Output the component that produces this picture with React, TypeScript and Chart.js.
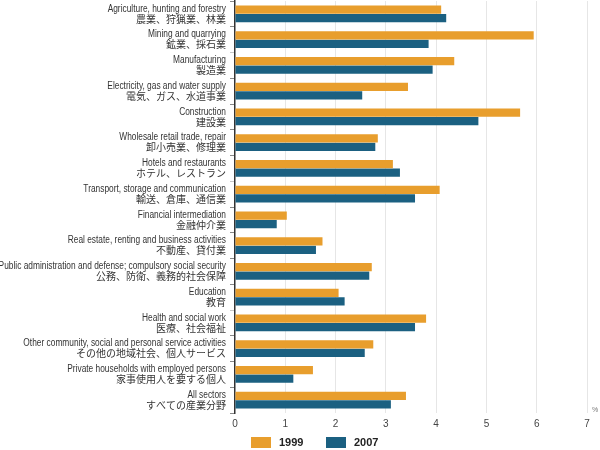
import React, { useEffect, useRef } from "react";
import { Chart, registerables } from "chart.js";

Chart.register(...registerables);

const englishLabels = [
  "Agriculture, hunting and forestry",
  "Mining and quarrying",
  "Manufacturing",
  "Electricity, gas and water supply",
  "Construction",
  "Wholesale retail trade, repair",
  "Hotels and restaurants",
  "Transport, storage and communication",
  "Financial intermediation",
  "Real estate, renting and business activities",
  "Public administration and defense; compulsory social security",
  "Education",
  "Health and social work",
  "Other community, social and personal service activities",
  "Private households with employed persons",
  "All sectors",
];

const japaneseLabels = [
  "農業、狩猟業、林業",
  "鉱業、採石業",
  "製造業",
  "電気、ガス、水道事業",
  "建設業",
  "卸小売業、修理業",
  "ホテル、レストラン",
  "輸送、倉庫、通信業",
  "金融仲介業",
  "不動産、貸付業",
  "公務、防衛、義務的社会保障",
  "教育",
  "医療、社会福祉",
  "その他の地域社会、個人サービス",
  "家事使用人を要する個人",
  "すべての産業分野",
];

const values1999 = [4.1, 5.94, 4.36, 3.44, 5.67, 2.84, 3.14, 4.07, 1.03, 1.74, 2.72, 2.06, 3.8, 2.75, 1.55, 3.4];
const values2007 = [4.2, 3.85, 3.93, 2.53, 4.84, 2.79, 3.28, 3.58, 0.83, 1.61, 2.67, 2.18, 3.58, 2.58, 1.16, 3.1];

const seriesNames = ["1999", "2007"];
const xTicks = [0, 1, 2, 3, 4, 5, 6, 7];

const ORANGE = "#E89E2D";
const BLUE = "#1B6081";

const labelPlugin = {
  id: "customLabels",
  afterDraw(chart: any) {
    const ctx = chart.ctx;
    const yScale = chart.scales.y;
    ctx.save();
    ctx.textAlign = "right";
    ctx.textBaseline = "middle";
    ctx.fillStyle = "#333";
    for (let i = 0; i < englishLabels.length; i++) {
      const y = yScale.getPixelForValue(i);
      ctx.save();
      ctx.translate(226, y - 5);
      ctx.scale(0.835, 1);
      ctx.font = '10px "Liberation Sans", sans-serif';
      ctx.fillText(englishLabels[i], 0, 0);
      ctx.restore();
      ctx.font = '10px "Noto Sans CJK JP", sans-serif';
      ctx.fillText(japaneseLabels[i], 226, y + 5);
    }
    // percent sign
    ctx.textAlign = "center";
    ctx.fillStyle = "#777";
    ctx.font = '7px "Liberation Sans", sans-serif';
    ctx.fillText("%", 595, 410);
    // legend
    const colors = [ORANGE, BLUE];
    const boxX = [251, 326];
    ctx.textAlign = "left";
    for (let k = 0; k < 2; k++) {
      ctx.fillStyle = colors[k];
      ctx.fillRect(boxX[k], 437, 20, 11);
      ctx.fillStyle = "#222";
      ctx.font = 'bold 11px "Liberation Sans", sans-serif';
      ctx.fillText(seriesNames[k], boxX[k] + 28, 443);
    }
    ctx.restore();
  },
};

export default function App() {
  const ref = useRef<HTMLCanvasElement>(null);
  useEffect(() => {
    if (!ref.current) return;
    const chart = new Chart(ref.current, {
      type: "bar",
      data: {
        labels: englishLabels,
        datasets: [
          {
            label: seriesNames[0],
            data: values1999,
            backgroundColor: ORANGE,
            categoryPercentage: 0.66,
            barPercentage: 0.95,
          },
          {
            label: seriesNames[1],
            data: values2007,
            backgroundColor: BLUE,
            categoryPercentage: 0.66,
            barPercentage: 0.95,
          },
        ],
      },
      options: {
        indexAxis: "y",
        animation: false,
        responsive: false,
        layout: { padding: { top: 1, right: 13, bottom: 0, left: 0 } },
        plugins: { legend: { display: false }, tooltip: { enabled: false } },
        scales: {
          x: {
            min: 0,
            max: 7,
            afterBuildTicks: (scale: any) => {
              scale.ticks = xTicks.map((v) => ({ value: v }));
            },
            afterFit: (scale: any) => {
              scale.height = 37;
            },
            border: { display: false },
            grid: {
              color: (c: any) => (c.tick && c.tick.value === 0 ? "rgba(0,0,0,0)" : "#e6e6e6"),
              drawTicks: false,
            },
            ticks: {
              padding: 5,
              color: "#444",
              font: { family: '"Liberation Sans", sans-serif', size: 10 },
            },
          },
          y: {
            afterFit: (scale: any) => {
              scale.width = 235;
            },
            border: { display: true, color: "#333", width: 1.5 },
            grid: {
              offset: true,
              drawOnChartArea: false,
              drawTicks: true,
              tickLength: 5,
              color: (c: any) => (c.index === 2 || c.index === 7 || c.index === 12 ? "#c8c8c8" : "#888"),
            },
            ticks: { display: false },
          },
        },
      },
      plugins: [labelPlugin],
    });
    return () => chart.destroy();
  }, []);
  return (
    <canvas
      ref={ref}
      width={600}
      height={450}
      style={{ position: "fixed", left: 0, top: 0, width: 600, height: 450, background: "#fff" }}
    />
  );
}
